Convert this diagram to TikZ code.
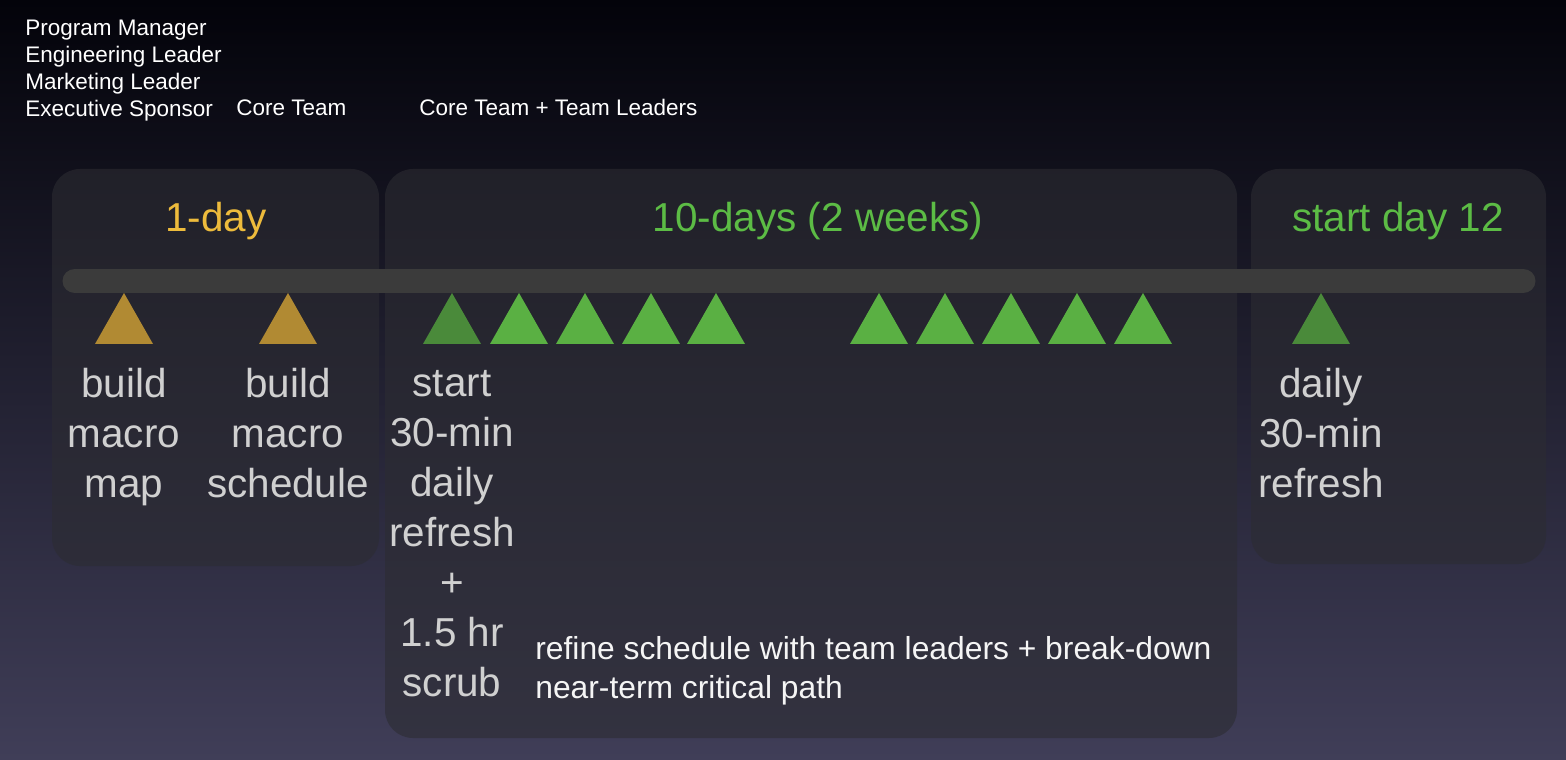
\documentclass[tikz,border=0pt]{standalone}
\usepackage{fontspec}
\setmainfont{Liberation Sans}
\usepackage{tikz}
\definecolor{figgold}{HTML}{B18A33}
\definecolor{figgoldtext}{HTML}{EDBB3C}
\definecolor{figgreen}{HTML}{5AB043}
\definecolor{figdkgreen}{HTML}{4A8A3A}
\definecolor{figgreentext}{HTML}{5CBC45}
\definecolor{figpanel}{HTML}{2C2C32}
\definecolor{figbar}{HTML}{3B3B3B}
\definecolor{figlabel}{HTML}{D0D0D0}
\definecolor{figbgtop}{HTML}{03030A}
\definecolor{figbgmid}{HTML}{13132A}
\definecolor{figbgbot}{HTML}{403E58}
\tikzset{
  panel/.style={fill=figpanel,fill opacity=0.6,rounded corners=0.56cm},
  phase/.style={font=\fontsize{23}{28}\selectfont,anchor=base,inner sep=0pt},
  steplabel/.style={font=\fontsize{23}{28.45}\selectfont,text=figlabel,align=center,anchor=north,inner sep=0pt},
  role/.style={font=\fontsize{12.8}{15.37}\selectfont,text=white,inner sep=0pt}
}
\newcommand{\milestone}[2]{\fill[#2] (#1-29,344) -- (#1,293) -- (#1+29,344) -- cycle;}

\begin{document}
\begin{tikzpicture}[x=0.02cm,y=-0.02cm]
    \shade[top color=figbgtop,middle color=figbgmid,bottom color=figbgbot] (0,0) rectangle (1566,760);
    \useasboundingbox (0,0) rectangle (1566,760);
    \fill[panel] (52,169) rectangle (379,566);
    \fill[panel] (385,169) rectangle (1237,738);
    \fill[panel] (1251,169) rectangle (1546,564);
    \draw[figbar,line width=0.5cm,line cap=round] (75,281) -- (1523,281);
    \foreach \x in {124,288} \milestone{\x}{figgold};
    \foreach \x in {519,585,651,716,879,945,1011,1077,1143} \milestone{\x}{figgreen};
    \foreach \x in {452,1321} \milestone{\x}{figdkgreen};
    \node[role,align=left,anchor=north west] (roles) at (25,20) {Program Manager\\Engineering Leader\\Marketing Leader\\Executive Sponsor};
    \node[role,anchor=base west] (core) at (236,116) {Core Team};
    \node[role,anchor=base west] (coreplus) at (419,116) {Core Team + Team Leaders};
    \node[phase,text=figgoldtext] (oneday) at (216,232) {1-day};
    \node[phase,text=figgreentext] (tendays) at (818,232) {10-days (2 weeks)};
    \node[phase,text=figgreentext] (daytwelve) at (1398,232) {start day 12};
    \node[steplabel] (map) at (124,367.5) {build\\macro\\map};
    \node[steplabel] (sched) at (288,367.5) {build\\macro\\schedule};
    \node[steplabel] (scrub) at (452,370.5) {start\\30-min\\daily\\refresh\\+\\1.5 hr\\scrub};
    \node[steplabel] (refresh) at (1321,367.5) {daily\\30-min\\refresh};
    \node[font=\fontsize{18.1}{22.2}\selectfont,text=white!92!gray,align=left,anchor=north west,inner sep=0pt] (refine) at (535,636) {refine schedule with team leaders + break-down\\near-term critical path};
  \end{tikzpicture}
\end{document}
